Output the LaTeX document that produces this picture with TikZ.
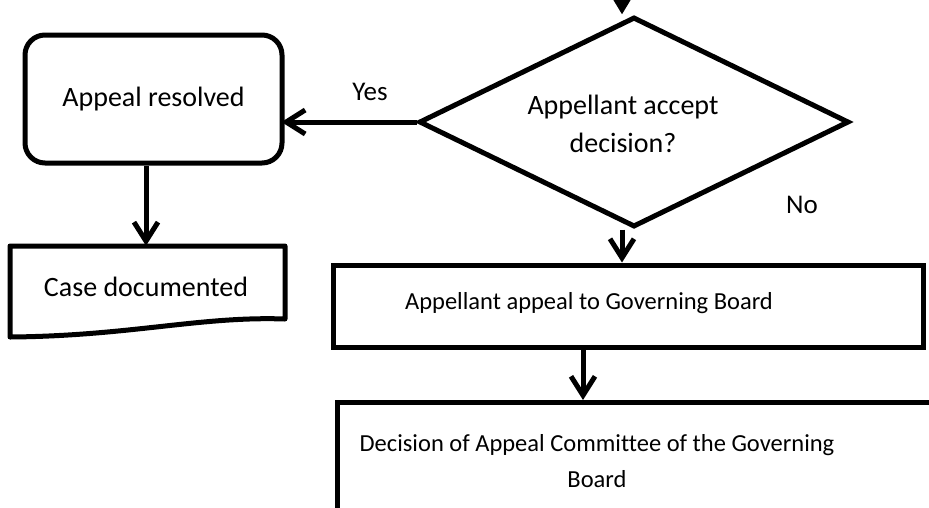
\documentclass[tikz,border=0pt]{standalone}
\usepackage{fontspec}
\setmainfont[Ligatures=NoCommon]{Carlito}
\usetikzlibrary{arrows.meta,shapes.geometric}
\begin{document}
\begin{tikzpicture}[x=1pt,y=-1pt,
  box/.style={draw, line width=5pt, inner sep=0pt},
  txt/.style={align=center, inner sep=0pt},
  big/.style={font=\fontsize{28}{38}\selectfont},
  mid/.style={font=\fontsize{24.5}{36}\selectfont},
  lab/.style={font=\fontsize{27}{36}\selectfont},
  arr/.style={line width=5pt, -{Straight Barb[length=19pt,width=24pt]}}
]
\useasboundingbox (0,0) rectangle (929,507);
\clip (0,0) rectangle (929,507);

% nodes
\node[box, rounded corners=20pt, minimum width=257pt, minimum height=128pt, txt, big] (res) at (153.5,99) {Appeal resolved};
\node[draw, diamond, line width=5pt, minimum width=430pt, minimum height=210pt, inner sep=0pt] (dec) at (634,122) {};
\node[txt, big] (dectxt) at (623,124) {Appellant accept\\decision?};
\node[minimum width=277pt, minimum height=88pt, inner sep=0pt] (doc) at (147.5,290) {};
\node[txt, big] (doctxt) at (146,287) {Case documented};
\draw[line width=5pt, line join=round]
  (10,337) -- (10,246) -- (285,246) -- (285,319)
  .. controls (200,316) and (130,336) .. (10,337) -- cycle;
\node[box, minimum width=590pt, minimum height=82pt] (app) at (628,306) {};
\node[txt, mid] (apptxt) at (589,303) {Appellant appeal to Governing Board};
\node[box, minimum width=640pt, minimum height=160pt, anchor=north west] (com) at (335,400) {};
\node[txt, mid] (comtxt) at (597,461) {Decision of Appeal Committee of the Governing\\Board};
\node[txt, lab] (yes) at (370,92) {Yes};
\node[txt, lab] (no) at (802,205) {No};

% connector helpers
\coordinate (topin) at (622,-30);
\coordinate (c1) at (146,0);
\coordinate (c2) at (622,0);
\coordinate (c3) at (583,0);

% connectors
\draw[line width=5pt, -{Triangle[length=17pt,width=19pt]}] (topin) -- (topin |- dec.north);
\draw[arr, shorten >=-3pt] (dec.west) -- (dec.west -| res.east);
\draw[arr] (res.south -| c1) -- (doc.north -| c1);
\draw[arr] (dec.south -| c2) -- (app.north -| c2);
\draw[arr] (app.south -| c3) -- (com.north -| c3);
\end{tikzpicture}
\end{document}
